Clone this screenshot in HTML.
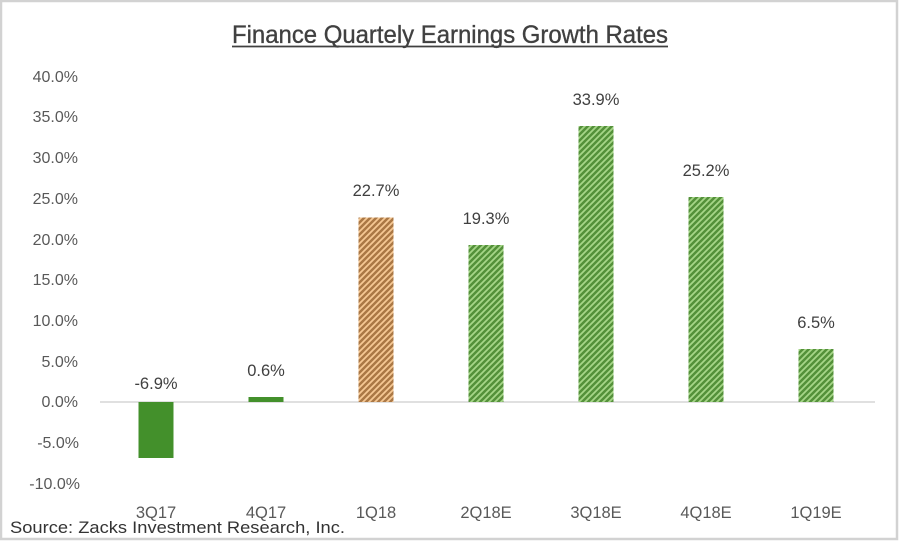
<!DOCTYPE html>
<html>
<head>
<meta charset="utf-8">
<style>
  html,body{margin:0;padding:0;background:#fff;}
  svg{display:block;}
  text{font-family:"Liberation Sans",sans-serif;}
</style>
</head>
<body>
<svg width="900" height="542" viewBox="0 0 900 542" xmlns="http://www.w3.org/2000/svg">
  <defs>
    <pattern id="hg" patternUnits="userSpaceOnUse" width="6" height="6">
      <rect width="6" height="6" fill="#a6d688"/>
      <path d="M-1.5,1.5 l3,-3 M0,6 l6,-6 M4.5,7.5 l3,-3" stroke="#54913a" stroke-width="2.5"/>
    </pattern>
    <pattern id="ho" patternUnits="userSpaceOnUse" width="6" height="6">
      <rect width="6" height="6" fill="#f6c894"/>
      <path d="M-1.5,1.5 l3,-3 M0,6 l6,-6 M4.5,7.5 l3,-3" stroke="#ab7845" stroke-width="2.5"/>
    </pattern>
  </defs>

  <rect x="1" y="1" width="896" height="538" fill="#fff" stroke="#d2d2d2" stroke-width="2.5"/>

  <!-- Title -->
  <text x="232" y="43" font-size="25" fill="#404040" stroke="#404040" stroke-width="0.35" textLength="436" lengthAdjust="spacingAndGlyphs">Finance Quartely Earnings Growth Rates</text>
  <line x1="232" y1="46.5" x2="668" y2="46.5" stroke="#404040" stroke-width="1.8"/>

  <!-- Y tick labels -->
  <g font-size="16" fill="#595959" text-anchor="end">
    <text x="78" y="82">40.0%</text>
    <text x="78" y="122">35.0%</text>
    <text x="78" y="163">30.0%</text>
    <text x="78" y="204">25.0%</text>
    <text x="78" y="245">20.0%</text>
    <text x="78" y="285">15.0%</text>
    <text x="78" y="326">10.0%</text>
    <text x="78" y="367">5.0%</text>
    <text x="78" y="407">0.0%</text>
    <text x="79" y="448">-5.0%</text>
    <text x="80" y="489">-10.0%</text>
  </g>

  <!-- Zero line -->
  <line x1="100" y1="402" x2="875" y2="402" stroke="#d6d6d6" stroke-width="1.5"/>

  <!-- Bars -->
  <rect x="138.5" y="402" width="35" height="56" fill="#43902b"/>
  <rect x="248.5" y="397" width="35" height="5" fill="#43902b"/>
  <rect x="358.5" y="217.5" width="35" height="184.5" fill="url(#ho)"/>
  <rect x="468.5" y="245" width="35" height="157" fill="url(#hg)"/>
  <rect x="578.5" y="126" width="35" height="276" fill="url(#hg)"/>
  <rect x="688.5" y="197" width="35" height="205" fill="url(#hg)"/>
  <rect x="798.5" y="349" width="35" height="53" fill="url(#hg)"/>

  <!-- Value labels -->
  <g font-size="16.5" fill="#404040" text-anchor="middle">
    <text x="156" y="389">-6.9%</text>
    <text x="266" y="376">0.6%</text>
    <text x="376" y="196">22.7%</text>
    <text x="486" y="224">19.3%</text>
    <text x="596" y="105">33.9%</text>
    <text x="706" y="176">25.2%</text>
    <text x="816" y="328">6.5%</text>
  </g>

  <!-- Category labels -->
  <g font-size="16.5" fill="#595959" text-anchor="middle">
    <text x="156" y="518">3Q17</text>
    <text x="266" y="518">4Q17</text>
    <text x="376" y="518">1Q18</text>
    <text x="486" y="518">2Q18E</text>
    <text x="596" y="518">3Q18E</text>
    <text x="706" y="518">4Q18E</text>
    <text x="816" y="518">1Q19E</text>
  </g>

  <!-- Source -->
  <text x="10" y="533" font-size="16.5" fill="#333" textLength="335" lengthAdjust="spacingAndGlyphs">Source: Zacks Investment Research, Inc.</text>
</svg>
</body>
</html>
